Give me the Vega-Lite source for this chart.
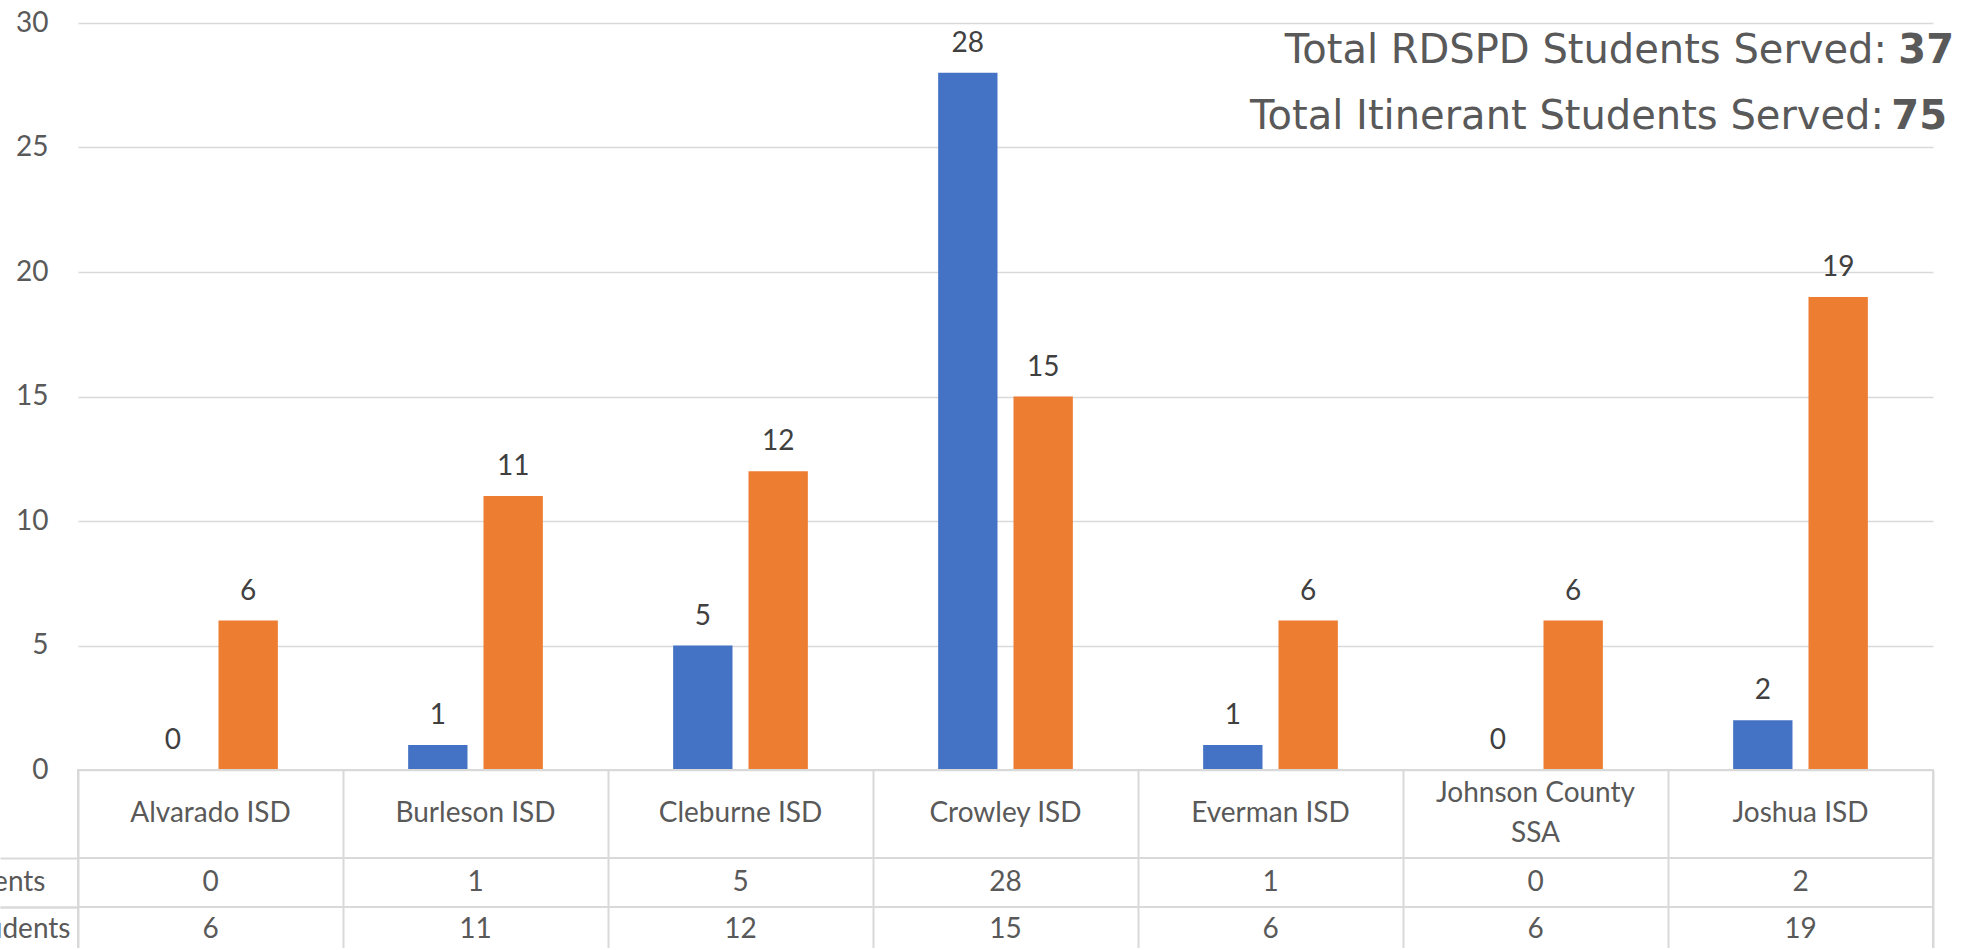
{
  "$schema": "https://vega.github.io/schema/vega-lite/v6.json",
  "autosize": {"type": "pad"},
  "padding": {"left": -242, "top": -77, "right": 0, "bottom": -6},
  "background": "white",
  "spacing": 0,
  "bounds": "flush",
  "config": {
    "font": "Lato",
    "view": {"stroke": null}
  },
  "datasets": {
    "students": [
      {"district": "Alvarado ISD", "series": "RDSPD Students", "value": 0},
      {"district": "Burleson ISD", "series": "RDSPD Students", "value": 1},
      {"district": "Cleburne ISD", "series": "RDSPD Students", "value": 5},
      {"district": "Crowley ISD", "series": "RDSPD Students", "value": 28},
      {"district": "Everman ISD", "series": "RDSPD Students", "value": 1},
      {"district": "Johnson County SSA", "series": "RDSPD Students", "value": 0},
      {"district": "Joshua ISD", "series": "RDSPD Students", "value": 2},
      {"district": "Alvarado ISD", "series": "Itinerant Students", "value": 6},
      {"district": "Burleson ISD", "series": "Itinerant Students", "value": 11},
      {"district": "Cleburne ISD", "series": "Itinerant Students", "value": 12},
      {"district": "Crowley ISD", "series": "Itinerant Students", "value": 15},
      {"district": "Everman ISD", "series": "Itinerant Students", "value": 6},
      {"district": "Johnson County SSA", "series": "Itinerant Students", "value": 6},
      {"district": "Joshua ISD", "series": "Itinerant Students", "value": 19}
    ],
    "districts": [
      {"district": "Alvarado ISD", "label": "Alvarado ISD"},
      {"district": "Burleson ISD", "label": "Burleson ISD"},
      {"district": "Cleburne ISD", "label": "Cleburne ISD"},
      {"district": "Crowley ISD", "label": "Crowley ISD"},
      {"district": "Everman ISD", "label": "Everman ISD"},
      {"district": "Johnson County SSA", "label": ["Johnson County", "SSA"]},
      {"district": "Joshua ISD", "label": "Joshua ISD"}
    ]
  },
  "vconcat": [
    {
      "width": 1855,
      "height": 747,
      "data": {"name": "students"},
      "layer": [
        {
          "mark": {"type": "bar"},
          "encoding": {
            "x": {
              "field": "district", "type": "nominal",
              "scale": {"type": "band", "domain": ["Alvarado ISD", "Burleson ISD", "Cleburne ISD", "Crowley ISD", "Everman ISD", "Johnson County SSA", "Joshua ISD"], "paddingInner": 0.4917, "paddingOuter": 0.24585},
              "axis": {"orient": "top", "title": null, "labels": false, "domain": false, "grid": false, "ticks": true, "tickSize": 100, "tickOpacity": 0}
            },
            "xOffset": {"field": "series", "type": "nominal", "scale": {"domain": ["RDSPD Students", "Itinerant Students"], "paddingInner": 0.2125, "paddingOuter": 0}},
            "y": {
              "field": "value", "type": "quantitative",
              "scale": {"domain": [0, 30], "nice": false, "zero": true},
              "axis": {"title": null, "values": [0, 5, 10, 15, 20, 25, 30], "grid": true, "gridColor": "#d9d9d9", "gridWidth": 1.5, "domain": false, "ticks": true, "tickSize": 320, "tickOpacity": 0, "labelPadding": -290, "labelFontSize": 28, "labelColor": "#595959", "labelFont": "Lato"}
            },
            "color": {"field": "series", "type": "nominal", "scale": {"domain": ["RDSPD Students", "Itinerant Students"], "range": ["#4472C4", "#ED7D31"]}, "legend": null}
          }
        },
        {
          "mark": {"type": "text", "baseline": "alphabetic", "dy": -21, "fontSize": 28, "color": "#404040", "font": "Lato"},
          "encoding": {
            "x": {"field": "district", "type": "nominal"},
            "xOffset": {"field": "series", "type": "nominal"},
            "y": {"field": "value", "type": "quantitative", "title": null},
            "text": {"field": "value", "type": "quantitative"}
          }
        },
        {
          "transform": [{"filter": "datum.series === 'RDSPD Students'"}, {"aggregate": [{"op": "sum", "field": "value", "as": "total"}]}],
          "mark": {"type": "text", "align": "right", "baseline": "alphabetic", "font": "DejaVu Sans", "fontSize": 40, "color": "#595959", "dx": -46},
          "encoding": {
            "x": {"value": "width"},
            "y": {"datum": 28.39, "type": "quantitative", "title": null},
            "text": {"value": "Total RDSPD Students Served:"}
          }
        },
        {
          "transform": [{"filter": "datum.series === 'RDSPD Students'"}, {"aggregate": [{"op": "sum", "field": "value", "as": "total"}]}],
          "mark": {"type": "text", "align": "right", "baseline": "alphabetic", "font": "DejaVu Sans", "fontSize": 40, "fontWeight": "bold", "color": "#595959", "dx": 21},
          "encoding": {
            "x": {"value": "width"},
            "y": {"datum": 28.39, "type": "quantitative", "title": null},
            "text": {"field": "total", "type": "quantitative"}
          }
        },
        {
          "transform": [{"filter": "datum.series === 'Itinerant Students'"}, {"aggregate": [{"op": "sum", "field": "value", "as": "total"}]}],
          "mark": {"type": "text", "align": "right", "baseline": "alphabetic", "font": "DejaVu Sans", "fontSize": 40, "color": "#595959", "dx": -49},
          "encoding": {
            "x": {"value": "width"},
            "y": {"datum": 25.74, "type": "quantitative", "title": null},
            "text": {"value": "Total Itinerant Students Served:"}
          }
        },
        {
          "transform": [{"filter": "datum.series === 'Itinerant Students'"}, {"aggregate": [{"op": "sum", "field": "value", "as": "total"}]}],
          "mark": {"type": "text", "align": "right", "baseline": "alphabetic", "font": "DejaVu Sans", "fontSize": 40, "fontWeight": "bold", "color": "#595959", "dx": 14},
          "encoding": {
            "x": {"value": "width"},
            "y": {"datum": 25.74, "type": "quantitative", "title": null},
            "text": {"field": "total", "type": "quantitative"}
          }
        }
      ]
    },
    {
      "width": 1855,
      "height": 88,
      "data": {"name": "districts"},
      "view": {"stroke": "#d9d9d9", "strokeWidth": 2},
      "encoding": {
        "x": {
          "field": "district", "type": "nominal",
          "scale": {"type": "band", "domain": ["Alvarado ISD", "Burleson ISD", "Cleburne ISD", "Crowley ISD", "Everman ISD", "Johnson County SSA", "Joshua ISD"], "paddingInner": 0, "paddingOuter": 0},
          "axis": {"title": null, "labels": false, "ticks": false, "domain": false, "grid": true, "gridColor": "#d9d9d9", "gridWidth": 2, "tickBand": "extent"}
        },
        "text": {"field": "label", "type": "nominal"}
      },
      "layer": [
        {
          "transform": [{"filter": "datum.district !== 'Johnson County SSA'"}],
          "mark": {"type": "text", "fontSize": 28, "color": "#595959", "lineHeight": 40, "baseline": "middle", "font": "Lato"}
        },
        {
          "transform": [{"filter": "datum.district === 'Johnson County SSA'"}],
          "mark": {"type": "text", "fontSize": 28, "color": "#595959", "lineHeight": 40, "baseline": "middle", "font": "Lato", "dy": -20}
        }
      ]
    },
    {
      "width": 1855,
      "height": 49,
      "data": {"name": "students"},
      "transform": [{"filter": "datum.series === 'RDSPD Students'"}],
      "view": {"stroke": "#d9d9d9", "strokeWidth": 2},
      "mark": {"type": "text", "fontSize": 28, "color": "#595959", "baseline": "middle", "font": "Lato"},
      "encoding": {
        "x": {
          "field": "district", "type": "nominal",
          "scale": {"type": "band", "domain": ["Alvarado ISD", "Burleson ISD", "Cleburne ISD", "Crowley ISD", "Everman ISD", "Johnson County SSA", "Joshua ISD"], "paddingInner": 0, "paddingOuter": 0},
          "axis": {"title": null, "labels": false, "ticks": false, "domain": false, "grid": true, "gridColor": "#d9d9d9", "gridWidth": 2, "tickBand": "extent"}
        },
        "y": {
          "field": "series", "type": "nominal",
          "scale": {"type": "band", "paddingInner": 0, "paddingOuter": 0},
          "axis": {"title": null, "domain": false, "grid": false, "ticks": true, "tickBand": "extent", "tickSize": 78, "tickColor": "#d9d9d9", "tickWidth": 2, "labelAlign": "right", "labelPadding": -45, "labelFontSize": 28, "labelColor": "#595959", "labelLimit": 1000, "labelBaseline": "middle", "labelFont": "Lato"}
        },
        "text": {"field": "value", "type": "quantitative"}
      }
    },
    {
      "width": 1855,
      "height": 45,
      "data": {"name": "students"},
      "transform": [{"filter": "datum.series === 'Itinerant Students'"}],
      "view": {"stroke": "#d9d9d9", "strokeWidth": 2},
      "mark": {"type": "text", "fontSize": 28, "color": "#595959", "baseline": "middle", "font": "Lato"},
      "encoding": {
        "x": {
          "field": "district", "type": "nominal",
          "scale": {"type": "band", "domain": ["Alvarado ISD", "Burleson ISD", "Cleburne ISD", "Crowley ISD", "Everman ISD", "Johnson County SSA", "Joshua ISD"], "paddingInner": 0, "paddingOuter": 0},
          "axis": {"title": null, "labels": false, "ticks": false, "domain": false, "grid": true, "gridColor": "#d9d9d9", "gridWidth": 2, "tickBand": "extent"}
        },
        "y": {
          "field": "series", "type": "nominal",
          "scale": {"type": "band", "paddingInner": 0, "paddingOuter": 0},
          "axis": {"title": null, "domain": false, "grid": false, "ticks": true, "tickBand": "extent", "tickSize": 78, "tickColor": "#d9d9d9", "tickWidth": 2, "labelAlign": "right", "labelPadding": -70, "labelFontSize": 28, "labelColor": "#595959", "labelLimit": 1000, "labelBaseline": "middle", "labelFont": "Lato"}
        },
        "text": {"field": "value", "type": "quantitative"}
      }
    }
  ]
}
